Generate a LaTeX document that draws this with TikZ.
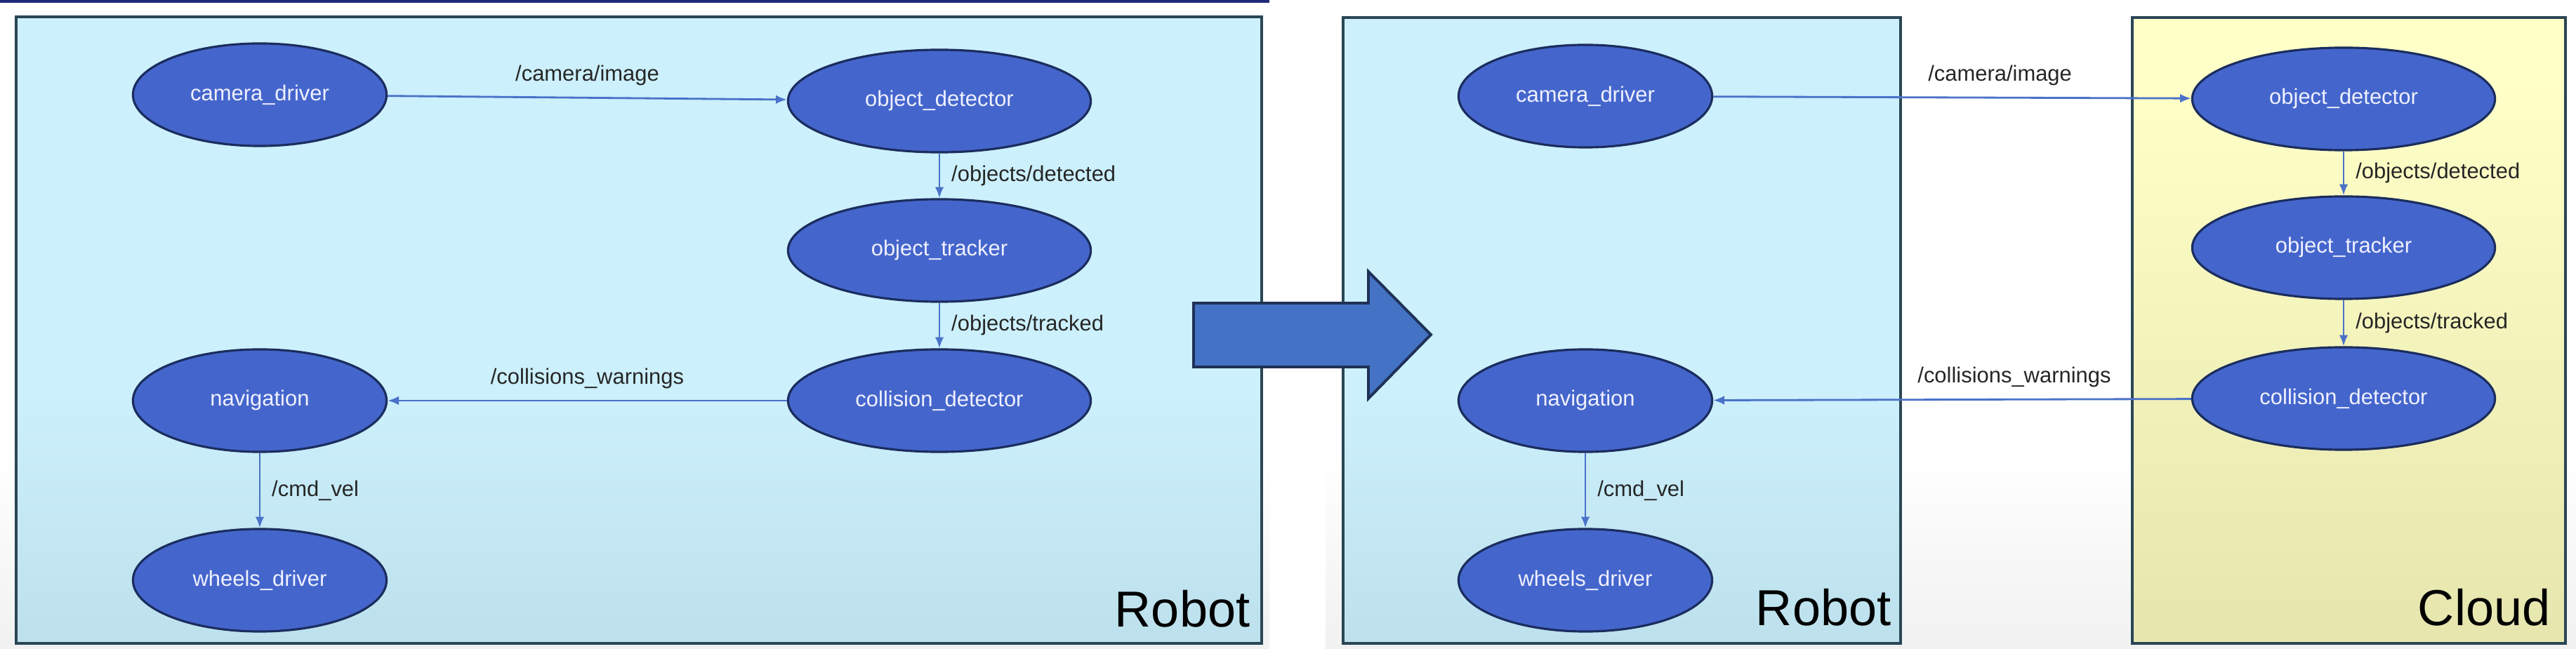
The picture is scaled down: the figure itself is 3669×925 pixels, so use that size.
\documentclass[tikz,border=0pt]{standalone}
\usepackage{fontspec}
\setmainfont{Liberation Sans}
\usepackage{xcolor}
\usetikzlibrary{shapes.geometric,arrows.meta}

\definecolor{nodeblue}{HTML}{4466CC}
\definecolor{nodeedge}{HTML}{1B2D5E}
\definecolor{linkblue}{HTML}{4A72C8}
\definecolor{robottop}{HTML}{CCF0FC}
\definecolor{robotbot}{HTML}{A9CCD8}
\definecolor{cloudtop}{HTML}{FFFFC8}
\definecolor{cloudbot}{HTML}{D8D7A0}
\definecolor{slidebot}{HTML}{DADADA}
\definecolor{frame}{HTML}{2A4655}
\definecolor{bigarrow}{HTML}{4472C4}
\definecolor{bigedge}{HTML}{1F3157}
\definecolor{topbar}{HTML}{1E2A78}
\definecolor{labelgray}{HTML}{262626}

\pgfdeclareverticalshading{slidefill}{100bp}{color(0bp)=(slidebot); color(40bp)=(white); color(100bp)=(white)}
\pgfdeclareverticalshading{robotfill}{100bp}{color(0bp)=(robotbot); color(45bp)=(robottop); color(100bp)=(robottop)}
\pgfdeclareverticalshading{cloudfill}{100bp}{color(0bp)=(cloudbot); color(70bp)=(cloudtop); color(100bp)=(cloudtop)}

\begin{document}
\begin{tikzpicture}[x=0.01cm, y=-0.01cm,
  rosnode/.style={ellipse, draw=nodeedge, line width=0.9pt, fill=nodeblue, text=white!94!blue,
    minimum width=3.61cm, minimum height=1.46cm, inner sep=0pt, font=\fontsize{8.8}{10}\selectfont},
  widenode/.style={rosnode, minimum width=4.31cm},
  topic/.style={draw=linkblue, line width=0.8pt, -{Latex[length=4.5pt,width=3.6pt]}},
  topiclabel/.style={font=\fontsize{8.8}{10}\selectfont, text=labelgray, inner sep=4.5pt},
  hostlabel/.style={font=\fontsize{20.5}{24}\selectfont, anchor=base east, inner sep=0pt},
  hostbox/.style={draw=frame, line width=0.9pt}]
\useasboundingbox (0,0) rectangle (3669,925);
\fill[white] (0,0) rectangle (3669,925);
\shade[shading=slidefill] (0,4) rectangle (1808,925);
\shade[shading=slidefill] (1888,0) rectangle (3669,925);
\fill[topbar] (0,0) rectangle (1808,4);

% before
\shadedraw[hostbox, shading=robotfill] (23,24) rectangle (1797,917);
% after
\shadedraw[hostbox, shading=robotfill] (1913,25) rectangle (2707,917);
\shadedraw[hostbox, shading=cloudfill] (3037,25) rectangle (3654,917);

\filldraw[fill=bigarrow, draw=bigedge, line width=1.1pt, line join=miter]
  (1700,432) -- (1949,432) -- (1949,387) -- (2038,477) -- (1949,568) -- (1949,523) -- (1700,523) -- cycle;

\node[rosnode]  (camdrvA) at (370,135)  {camera\_driver};
\node[widenode] (objdetA) at (1338,144) {object\_detector};
\node[widenode] (objtrkA) at (1338,357) {object\_tracker};
\node[widenode] (coldetA) at (1338,571) {collision\_detector};
\node[rosnode]  (navA)    at (370,571)  {navigation};
\node[rosnode]  (wheelsA) at (370,827)  {wheels\_driver};

\node[rosnode]  (camdrvB) at (2258,137) {camera\_driver};
\node[widenode] (objdetB) at (3338,141) {object\_detector};
\node[widenode] (objtrkB) at (3338,353) {object\_tracker};
\node[widenode] (coldetB) at (3338,568) {collision\_detector};
\node[rosnode]  (navB)    at (2258,571) {navigation};
\node[rosnode]  (wheelsB) at (2258,827) {wheels\_driver};

\draw[topic] (camdrvA) -- node[topiclabel, above] {/camera/image} (objdetA);
\draw[topic] (objdetA) -- node[topiclabel, right] {/objects/detected} (objtrkA);
\draw[topic] (objtrkA) -- node[topiclabel, right] {/objects/tracked} (coldetA);
\draw[topic] (coldetA) -- node[topiclabel, above] {/collisions\_warnings} (navA);
\draw[topic] (navA) -- node[topiclabel, right] {/cmd\_vel} (wheelsA);

\draw[topic] (camdrvB) -- node[topiclabel, above, pos=.6] {/camera/image} (objdetB);
\draw[topic] (objdetB) -- node[topiclabel, right] {/objects/detected} (objtrkB);
\draw[topic] (objtrkB) -- node[topiclabel, right] {/objects/tracked} (coldetB);
\draw[topic] (coldetB) -- node[topiclabel, above, pos=.37] {/collisions\_warnings} (navB);
\draw[topic] (navB) -- node[topiclabel, right] {/cmd\_vel} (wheelsB);

\node[hostlabel] (robotA) at (1781,893) {Robot};
\node[hostlabel] (robotB) at (2694,891) {Robot};
\node[hostlabel] (cloud)  at (3633,891) {Cloud};
\end{tikzpicture}
\end{document}
